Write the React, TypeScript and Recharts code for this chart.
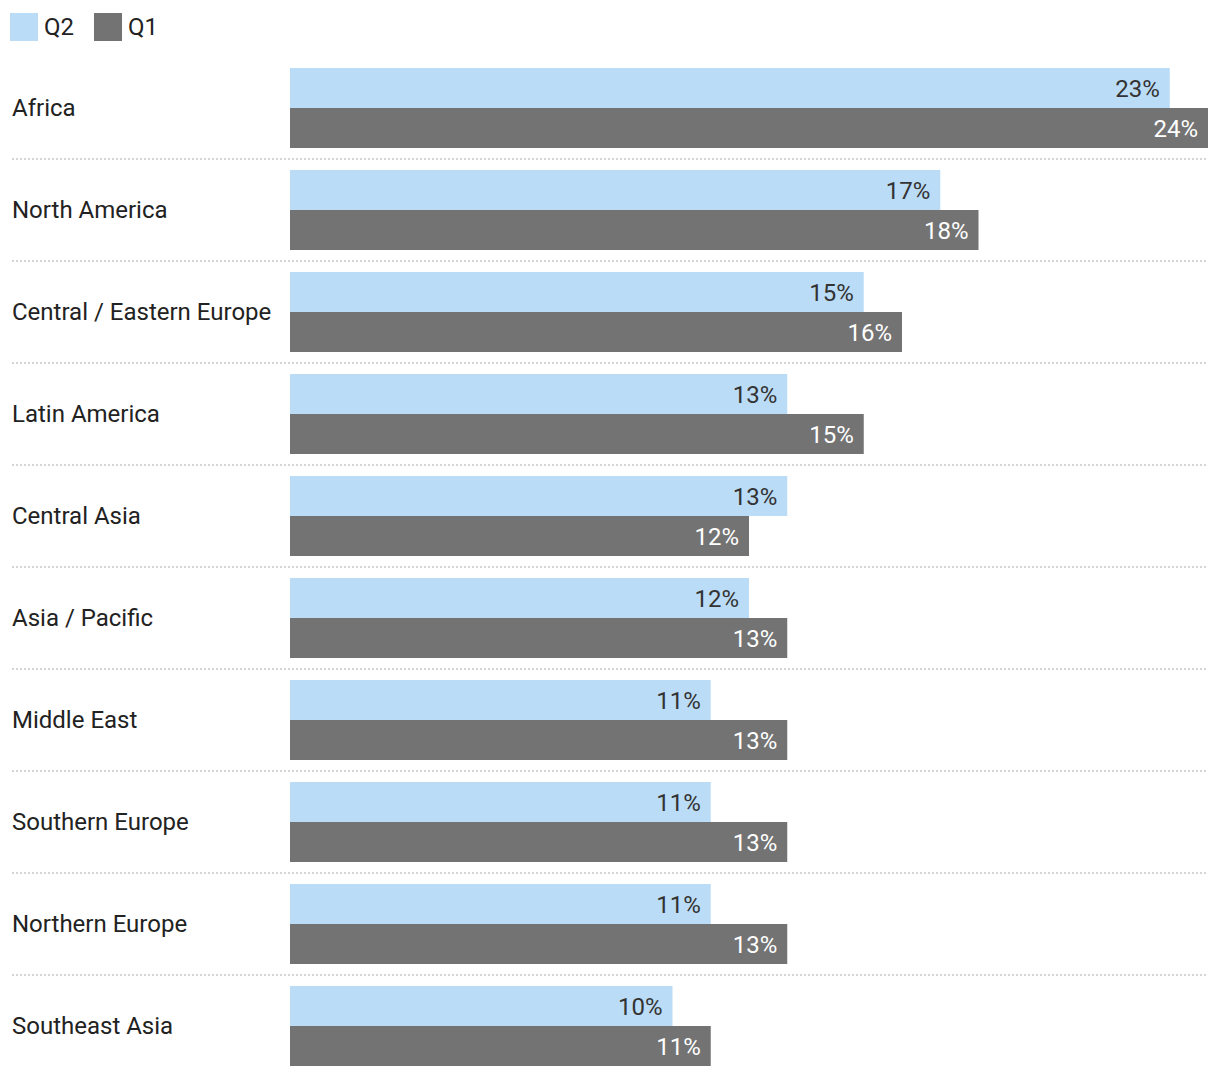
import React from 'react';
import {BarChart, Bar, XAxis, YAxis, LabelList} from 'recharts';

const regions = [
    'Africa',
    'North America',
    'Central / Eastern Europe',
    'Latin America',
    'Central Asia',
    'Asia / Pacific',
    'Middle East',
    'Southern Europe',
    'Northern Europe',
    'Southeast Asia',
];
const q2Values = [23, 17, 15, 13, 13, 12, 11, 11, 11, 10];
const q1Values = [24, 18, 16, 15, 12, 13, 13, 13, 13, 11];

const data = regions.map((region, i) => ({region, Q2: q2Values[i], Q1: q1Values[i]}));

const FONT = 'Roboto, "Noto Sans", sans-serif';
const Q2_COLOR = '#bbdcf6';
const Q1_COLOR = '#737373';

const RegionTick = (props: any) => {
    const {y, payload, index} = props;
    const last = index === regions.length - 1;
    return (
        <g>
            <text x={12} y={y} dy={8} fontSize={24} fill="#222" fontFamily={FONT} textAnchor="start">
                {payload.value}
            </text>
            {!last && (
                <line x1={12} x2={1208} y1={y + 51} y2={y + 51} stroke="#c8c8c8" strokeWidth={1.5} strokeDasharray="2 2"/>
            )}
        </g>
    );
};

const LegendBox = () => (
    <div style={{position: 'absolute', left: 10, top: 13, display: 'flex', alignItems: 'center', fontFamily: FONT, fontSize: 24, color: '#222'}}>
        <span style={{width: 28, height: 28, background: Q2_COLOR, display: 'inline-block'}}/>
        <span style={{marginLeft: 6, marginRight: 20}}>Q2</span>
        <span style={{width: 28, height: 28, background: Q1_COLOR, display: 'inline-block'}}/>
        <span style={{marginLeft: 6}}>Q1</span>
    </div>
);

const App = () => {
    return (
        <div style={{position: 'absolute', left: 0, top: 0, width: 1220, height: 1078, background: '#fff'}}>
            <LegendBox/>
            <BarChart
                width={1220}
                height={1078}
                data={data}
                layout="vertical"
                margin={{top: 57, right: 12, bottom: 1, left: 0}}
                barCategoryGap={11}
                barGap={0}
            >
                <XAxis type="number" domain={[0, 24]} hide/>
                <YAxis type="category" dataKey="region" width={290} axisLine={false} tickLine={false} tick={<RegionTick/>} interval={0}/>
                <Bar dataKey="Q2" fill={Q2_COLOR} isAnimationActive={false}>
                    <LabelList dataKey="Q2" position="insideRight" offset={10} formatter={(v: any) => `${v}%`}
                               style={{fontSize: 24, fontFamily: FONT, fill: '#333'}}/>
                </Bar>
                <Bar dataKey="Q1" fill={Q1_COLOR} isAnimationActive={false}>
                    <LabelList dataKey="Q1" position="insideRight" offset={10} formatter={(v: any) => `${v}%`}
                               style={{fontSize: 24, fontFamily: FONT, fill: '#fff'}}/>
                </Bar>
            </BarChart>
        </div>
    );
};

export default App;
